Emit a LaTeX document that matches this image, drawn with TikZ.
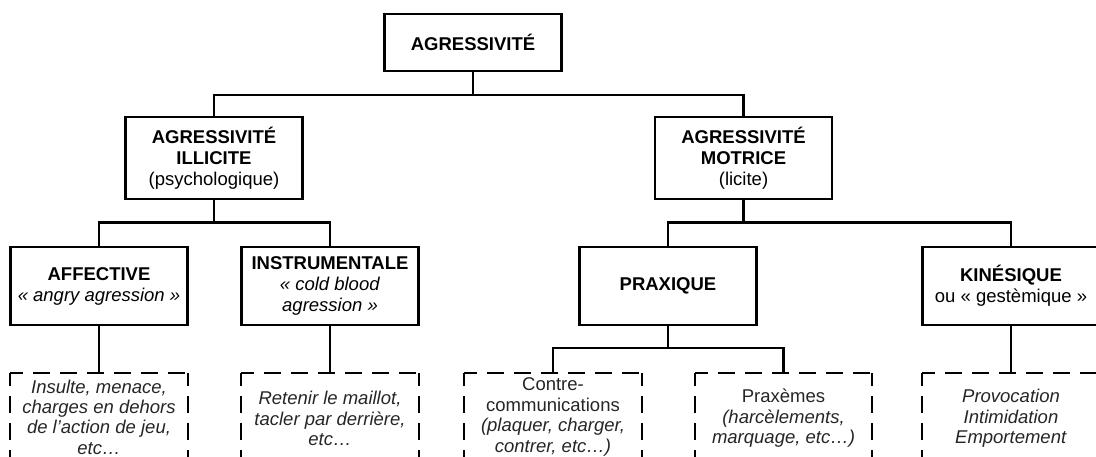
\documentclass[tikz,border=0pt]{standalone}
\usepackage{fontspec}
\setmainfont{Liberation Sans}
\begin{document}
\begin{tikzpicture}[x=1pt,y=-1pt,
  txt/.style={font=\fontsize{18.5}{21}\selectfont},
  box/.style={txt, draw, line width=2.2pt, minimum width=177pt, align=center, inner sep=0pt, text=black},
  dbox/.style={font=\fontsize{18.5}{20.4}\selectfont, minimum width=177pt, minimum height=91pt, align=center, inner sep=0pt, text=black!85},
  conn/.style={line width=2.2pt},
  dsh/.style={line width=2.2pt, dash pattern=on 17pt off 10pt, dash phase=4pt}]
\useasboundingbox (0,0) rectangle (1096,457);
\clip (0,0) rectangle (1096,457);
\fill[white] (0,0) rectangle (1096,457);

% level 1
\node[box, minimum height=57pt] (top) at (473,42.5) {\textbf{AGRESSIVITÉ}};
% level 2
\node[box, minimum height=82pt] (ill) at (214,158) {\textbf{AGRESSIVITÉ}\\\textbf{ILLICITE}\\(psychologique)};
\node[box, minimum height=82pt] (mot) at (743.5,158) {\textbf{AGRESSIVITÉ}\\\textbf{MOTRICE}\\(licite)};
% level 3
\node[box, minimum height=78pt] (aff) at (99,286) {\textbf{AFFECTIVE}\\\textit{« angry agression »}};
\node[box, minimum height=78pt] (ins) at (330,286) {\textbf{INSTRUMENTALE}\\\textit{« cold blood}\\\textit{agression »}};
\node[box, minimum height=78pt] (prax) at (668,286) {\textbf{PRAXIQUE}};
\node[box, minimum height=78pt] (kin) at (1011,286) {\textbf{KINÉSIQUE}\\ou « gestèmique »};
% level 4 (dashed)
\node[dbox] (d1) at (99,417) {\textit{Insulte, menace,}\\\textit{charges en dehors}\\\textit{de l’action de jeu,}\\\textit{etc…}};
\node[dbox] (d2) at (330,418.5) {\textit{Retenir le maillot,}\\\textit{tacler par derrière,}\\\textit{etc…}};
\node[dbox] (d3) at (553,417) {Contre-\\communications\\\textit{(plaquer, charger,}\\\textit{contrer, etc…)}};
\node[dbox] (d4) at (783.5,418.5) {Praxèmes\\\textit{(harcèlements,}\\\textit{marquage, etc…)}};
\node[dbox] (d5) at (1011,418.5) {\textit{Provocation}\\\textit{Intimidation}\\\textit{Emportement}};

\foreach \n in {d1,d2,d3,d4,d5}{
  \draw[dsh] (\n.north west |- 0,373) -- (\n.north east |- 0,373);
  \draw[dsh] (\n.north west |- 0,373) -- (\n.south west |- 0,470);
  \draw[dsh] (\n.north east |- 0,373) -- (\n.south east |- 0,470);
}

% bus coordinates
\coordinate (bus1) at (0,95);
\coordinate (bus2) at (0,222.5);
\coordinate (bus3) at (0,348);
\coordinate (dtop) at (0,373);

% connectors
\draw[conn] (top.south) -- (top.south |- bus1);
\draw[conn] (ill.north) |- (bus1 -| mot.north) -- (mot.north);
\draw[conn] (ill.south) -- (ill.south |- bus2);
\draw[conn] (aff.north) |- (bus2 -| ins.north) -- (ins.north);
\draw[conn] (mot.south) -- (mot.south |- bus2);
\draw[conn] (prax.north) |- (bus2 -| kin.north) -- (kin.north);
\draw[conn] (aff.south) -- (aff.south |- dtop);
\draw[conn] (ins.south) -- (ins.south |- dtop);
\draw[conn] (prax.south) -- (prax.south |- bus3);
\draw[conn] (d3.north |- dtop) |- (bus3 -| d4.north) -- (d4.north |- dtop);
\draw[conn] (kin.south) -- (kin.south |- dtop);
\end{tikzpicture}
\end{document}
